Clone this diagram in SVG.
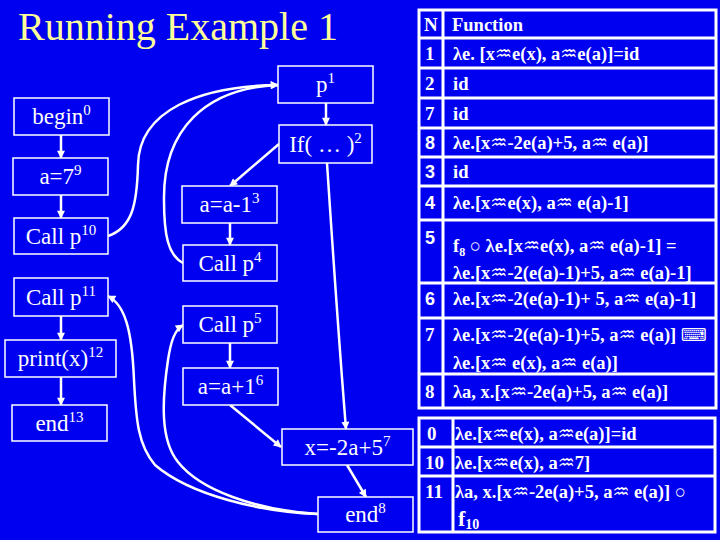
<svg xmlns="http://www.w3.org/2000/svg" width="720" height="540" viewBox="0 0 720 540">
<defs>
<style>
.bg{fill:#0000F0}
.box{fill:#0000F0;stroke:#FFFFFF;stroke-width:1.5}
.lbl{font-family:"Liberation Serif","Times New Roman",serif;font-size:23px;fill:#FFFFFF;text-anchor:middle}
.sup{font-size:15px}
.title{font-family:"Liberation Serif","Times New Roman",serif;font-size:40px;fill:#FFFF99}
.edge{fill:none;stroke:#FFFFFF;stroke-width:2.5}
.tl{fill:none;stroke:#FFFFFF;stroke-width:3}
.t{font-family:"Liberation Serif","Times New Roman",serif;font-size:18.5px;font-weight:bold;fill:#FFFFFF}
.n{font-family:"Liberation Serif","Times New Roman",serif;font-size:19px;font-weight:bold;fill:#FFFFFF}
.ns{font-family:"Liberation Sans",Arial,sans-serif;font-size:18px;font-weight:bold;fill:#FFFFFF}
.m{font-family:"DejaVu Sans",sans-serif;font-size:19px;font-weight:normal}
.k{font-family:"DejaVu Sans",sans-serif;font-size:18px;font-weight:normal}
</style>
<marker id="ah" viewBox="0 0 10 10" refX="9" refY="5" markerWidth="9" markerHeight="8" markerUnits="userSpaceOnUse" orient="auto">
<path d="M0,0 L10,5 L0,10 z" fill="#FFFFFF"/>
</marker>
</defs>
<rect class="bg" x="0" y="0" width="720" height="540"/>
<text class="title" x="18" y="40">Running Example 1</text>

<g id="connectors">
<path class="edge" marker-end="url(#ah)" d="M61,135 L61,158"/>
<path class="edge" marker-end="url(#ah)" d="M61,195 L61,218"/>
<path class="edge" marker-end="url(#ah)" d="M61,316 L61,340"/>
<path class="edge" marker-end="url(#ah)" d="M61,377 L61,405"/>
<path class="edge" marker-end="url(#ah)" d="M326,103 L326,125"/>
<path class="edge" marker-end="url(#ah)" d="M279,144 L230,186"/>
<path class="edge" marker-end="url(#ah)" d="M230,223 L230,245"/>
<path class="edge" marker-end="url(#ah)" d="M230,343 L230,368"/>
<path class="edge" marker-end="url(#ah)" d="M327,163 Q338,330 346,429"/>
<path class="edge" marker-end="url(#ah)" d="M230,405 L281,447"/>
<path class="edge" marker-end="url(#ah)" d="M347,465 L366,497"/>
<path class="edge" marker-end="url(#ah)" d="M108,236 C132,228 137,205 138,165 C139,110 200,86 278,85"/>
<path class="edge" marker-end="url(#ah)" d="M183,263 C168,255 164,235 164,200 C163,130 205,88 278,85"/>
<path class="edge" marker-end="url(#ah)" d="M318,514 C260,512 190,495 155,465 C138,445 136,420 134,380 C132,330 125,305 108,296"/>
<path class="edge" marker-end="url(#ah)" d="M318,514 C255,510 200,490 178,462 C160,440 162,400 168,360 C171,340 175,330 183,325"/>
</g>

<g id="n_p1"><rect class="box" x="278" y="66" width="95" height="37"/><text class="lbl" x="325.5" y="92">p<tspan class="sup" dy="-9">1</tspan></text></g>
<g id="n_if"><rect class="box" x="279" y="125" width="93" height="38"/><text class="lbl" x="325.5" y="152">If( … )<tspan class="sup" dy="-9">2</tspan></text></g>
<g id="n_begin"><rect class="box" x="14" y="98" width="95" height="37"/><text class="lbl" x="61.5" y="124">begin<tspan class="sup" dy="-9">0</tspan></text></g>
<g id="n_a7"><rect class="box" x="13" y="158" width="95" height="37"/><text class="lbl" x="60.5" y="184">a=7<tspan class="sup" dy="-9">9</tspan></text></g>
<g id="n_call10"><rect class="box" x="14" y="218" width="94" height="36"/><text class="lbl" x="61" y="244">Call p<tspan class="sup" dy="-9">10</tspan></text></g>
<g id="n_call11"><rect class="box" x="14" y="278" width="94" height="38"/><text class="lbl" x="61" y="305">Call p<tspan class="sup" dy="-9">11</tspan></text></g>
<g id="n_print"><rect class="box" x="5" y="340" width="111" height="37"/><text class="lbl" x="60.5" y="366">print(x)<tspan class="sup" dy="-9">12</tspan></text></g>
<g id="n_end13"><rect class="box" x="12" y="405" width="95" height="36"/><text class="lbl" x="59.5" y="431">end<tspan class="sup" dy="-9">13</tspan></text></g>
<g id="n_am1"><rect class="box" x="182" y="186" width="95" height="37"/><text class="lbl" x="229.5" y="212">a=a-1<tspan class="sup" dy="-9">3</tspan></text></g>
<g id="n_call4"><rect class="box" x="183" y="245" width="94" height="36"/><text class="lbl" x="230" y="271">Call p<tspan class="sup" dy="-9">4</tspan></text></g>
<g id="n_call5"><rect class="box" x="183" y="306" width="94" height="37"/><text class="lbl" x="230" y="332">Call p<tspan class="sup" dy="-9">5</tspan></text></g>
<g id="n_ap1"><rect class="box" x="183" y="368" width="95" height="37"/><text class="lbl" x="230.5" y="394">a=a+1<tspan class="sup" dy="-9">6</tspan></text></g>
<g id="n_x"><rect class="box" x="282" y="429" width="131" height="36"/><text class="lbl" x="347.5" y="455">x=-2a+5<tspan class="sup" dy="-9">7</tspan></text></g>
<g id="n_end8"><rect class="box" x="318" y="497" width="95" height="35"/><text class="lbl" x="365.5" y="522">end<tspan class="sup" dy="-9">8</tspan></text></g>

<g id="table1">
<rect class="tl" x="419" y="10" width="297" height="398"/>
<path class="tl" d="M443,10 V408 M419,38 H716 M419,68 H716 M419,98 H716 M419,128 H716 M419,157 H716 M419,186 H716 M419,220 H716 M419,283 H716 M419,318 H716 M419,374 H716"/>
<text class="n" x="424" y="31">N</text><text class="t" x="452" y="31">Function</text>
<text class="n" x="425" y="60">1</text><text class="t" x="453" y="60">λe. [x<tspan class="m">♒</tspan>e(x), a<tspan class="m">♒</tspan>e(a)]=id</text>
<text class="n" x="425" y="90">2</text><text class="t" x="453" y="90">id</text>
<text class="n" x="425" y="120">7</text><text class="t" x="453" y="120">id</text>
<text class="ns" x="425" y="149">8</text><text class="t" x="453" y="149">λe.[x<tspan class="m">♒</tspan>-2e(a)+5, a<tspan class="m">♒</tspan> e(a)]</text>
<text class="ns" x="425" y="178">3</text><text class="t" x="453" y="178">id</text>
<text class="ns" x="425" y="209">4</text><text class="t" x="453" y="209">λe.[x<tspan class="m">♒</tspan>e(x), a<tspan class="m">♒</tspan> e(a)-1]</text>
<text class="ns" x="425" y="244">5</text>
<text class="t" x="453" y="252">f<tspan font-size="12" dy="4">8</tspan><tspan dy="-4"> ○  λe.[x</tspan><tspan class="m">♒</tspan>e(x), a<tspan class="m">♒</tspan> e(a)-1] =</text>
<text class="t" x="453" y="279">λe.[x<tspan class="m">♒</tspan>-2(e(a)-1)+5, a<tspan class="m">♒</tspan> e(a)-1]</text>
<text class="ns" x="425" y="305">6</text><text class="t" x="453" y="305">λe.[x<tspan class="m">♒</tspan>-2(e(a)-1)+ 5, a<tspan class="m">♒</tspan> e(a)-1]</text>
<text class="n" x="425" y="341">7</text><text class="t" x="453" y="341">λe.[x<tspan class="m">♒</tspan>-2(e(a)-1)+5, a<tspan class="m">♒</tspan> e(a)]  <tspan class="k">⌨</tspan></text>
<text class="t" x="453" y="369">λe.[x<tspan class="m">♒</tspan> e(x), a<tspan class="m">♒</tspan> e(a)]</text>
<text class="n" x="425" y="398">8</text><text class="t" x="453" y="398">λa, x.[x<tspan class="m">♒</tspan>-2e(a)+5, a<tspan class="m">♒</tspan> e(a)]</text>
</g>

<g id="table2">
<rect class="tl" x="419" y="418" width="296" height="114"/>
<path class="tl" d="M453,418 V532 M419,447 H715 M419,476 H715"/>
<text class="n" x="427" y="440">0</text><text class="t" x="455" y="440">λe.[x<tspan class="m">♒</tspan>e(x), a<tspan class="m">♒</tspan>e(a)]=id</text>
<text class="n" x="425" y="469">10</text><text class="t" x="455" y="469">λe.[x<tspan class="m">♒</tspan>e(x), a<tspan class="m">♒</tspan>7]</text>
<text class="n" x="425" y="498">11</text><text class="t" x="455" y="498">λa, x.[x<tspan class="m">♒</tspan>-2e(a)+5, a<tspan class="m">♒</tspan> e(a)] ○</text>
<text class="t" x="458" y="526"><tspan font-size="22">f</tspan><tspan font-size="14" dy="3">10</tspan></text>
</g>
</svg>
